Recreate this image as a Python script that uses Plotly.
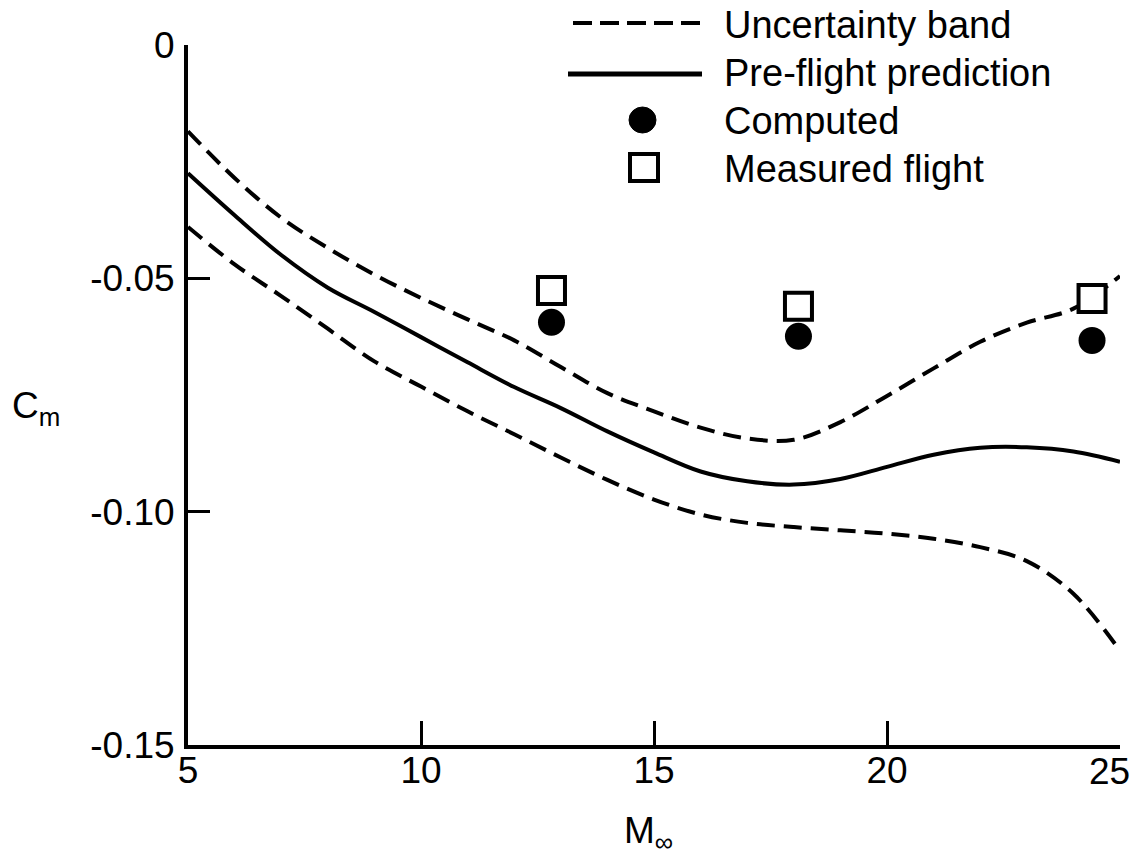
import plotly.graph_objects as go

# ---- data ----
mach = [5, 6, 7, 8, 9, 10, 11, 12, 13, 14, 15, 16, 17, 18, 19, 20, 21, 22, 23, 24, 25]
band_upper = [-0.0185, -0.0285, -0.0370, -0.0435, -0.0492, -0.0542, -0.0588, -0.0633,
              -0.0690, -0.0746, -0.0785, -0.0820, -0.0843, -0.0846, -0.0808, -0.0752,
              -0.0693, -0.0636, -0.0595, -0.0565, -0.0495]
prediction = [-0.0275, -0.0365, -0.0450, -0.0520, -0.0572, -0.0626, -0.0680, -0.0733,
              -0.0778, -0.0828, -0.0873, -0.0914, -0.0935, -0.0942, -0.0930, -0.0904,
              -0.0878, -0.0863, -0.0862, -0.0871, -0.0893]
band_lower = [-0.0390, -0.0470, -0.0538, -0.0608, -0.0678, -0.0732, -0.0785, -0.0834,
              -0.0884, -0.0932, -0.0974, -0.1006, -0.1024, -0.1033, -0.1040, -0.1047,
              -0.1058, -0.1076, -0.1106, -0.1176, -0.1298]

pts_mach = [12.8, 18.1, 24.4]
computed = [-0.0594, -0.0624, -0.0633]
measured = [-0.0526, -0.0560, -0.0543]

x_ticks = [5, 10, 15, 20, 25]
x_ticktext = ["5", "10", "15", "20", "25"]
y_ticks = [0, -0.05, -0.10, -0.15]
y_ticktext = ["0", "-0.05", "-0.10", "-0.15"]

legend_labels = ["Uncertainty band", "Pre-flight prediction", "Computed", "Measured flight"]

FONT = "Liberation Sans, Arial, Helvetica, sans-serif"
FS = 37
W, H = 1137, 857
ML, MR, MT, MB = 188, 17, 45, 112
PW, PH = W - ML - MR, H - MT - MB

def px_x(p):
    return (p - ML) / PW

def px_y(p):
    return 1 - (p - MT) / PH

dash = "18px,9px"
fig = go.Figure()
fig.add_trace(go.Scatter(x=mach, y=band_upper, mode="lines", line=dict(color="black", width=4, dash=dash, shape="spline"), showlegend=False))
fig.add_trace(go.Scatter(x=mach, y=prediction, mode="lines", line=dict(color="black", width=4, shape="spline"), showlegend=False))
fig.add_trace(go.Scatter(x=mach, y=band_lower, mode="lines", line=dict(color="black", width=4, dash=dash, shape="spline"), showlegend=False))
fig.add_trace(go.Scatter(x=pts_mach, y=computed, mode="markers", marker=dict(symbol="circle", size=27, color="black"), showlegend=False))
fig.add_trace(go.Scatter(x=pts_mach, y=measured, mode="markers", marker=dict(symbol="square", size=27, color="white", line=dict(color="black", width=4)), showlegend=False))

# manual legend (keys + text)
shapes = []
shapes.append(dict(type="line", xref="paper", yref="paper", x0=px_x(573), x1=px_x(702), y0=px_y(23), y1=px_y(23),
                   line=dict(color="black", width=4, dash="19px,8px")))
shapes.append(dict(type="line", xref="paper", yref="paper", x0=px_x(568), x1=px_x(702), y0=px_y(74), y1=px_y(74),
                   line=dict(color="black", width=5)))
shapes.append(dict(type="circle", xref="paper", yref="paper", x0=px_x(629), x1=px_x(656), y0=px_y(107), y1=px_y(133),
                   fillcolor="black", line=dict(color="black", width=1)))
shapes.append(dict(type="rect", xref="paper", yref="paper", x0=px_x(630), x1=px_x(658), y0=px_y(154), y1=px_y(181),
                   fillcolor="white", line=dict(color="black", width=4)))

annotations = []
for lbl, yc in zip(legend_labels, [25, 73, 121, 169]):
    annotations.append(dict(text=lbl, xref="paper", yref="paper", x=px_x(722), y=px_y(yc), xanchor="left", yanchor="middle",
                            showarrow=False, font=dict(family=FONT, size=38, color="black")))
annotations.append(dict(text="C<sub>m</sub>", xref="paper", yref="paper", x=px_x(10), y=px_y(408), xanchor="left", yanchor="middle",
                        showarrow=False, font=dict(family=FONT, size=FS, color="black")))
annotations.append(dict(text="M<sub>∞</sub>", xref="paper", yref="paper", x=px_x(622), y=px_y(833), xanchor="left", yanchor="middle",
                        showarrow=False, font=dict(family=FONT, size=FS, color="black")))
# last x tick label, kept inside the page like in the reference
annotations.append(dict(text=x_ticktext[-1], xref="x", yref="paper", x=x_ticks[-1], y=px_y(771), xanchor="right", yanchor="middle",
                        xshift=12, showarrow=False, font=dict(family=FONT, size=FS, color="black")))

fig.update_layout(
    width=W, height=H,
    margin=dict(l=ML, r=MR, t=MT, b=MB, autoexpand=False),
    paper_bgcolor="white", plot_bgcolor="white",
    font=dict(family=FONT, size=FS, color="black"),
    shapes=shapes, annotations=annotations,
    showlegend=False,
)
fig.update_xaxes(range=[5, 25], tickvals=x_ticks, ticktext=x_ticktext[:-1] + [""],
                 ticks="inside", ticklen=24, tickwidth=3, tickcolor="black",
                 showline=True, linewidth=4, linecolor="black", showgrid=False, zeroline=False,
                 ticklabelstandoff=-10, ticklabeloverflow="allow", tickfont=dict(family=FONT, size=FS))
fig.update_yaxes(range=[-0.15, 0], tickvals=y_ticks, ticktext=y_ticktext,
                 ticks="inside", ticklen=22, tickwidth=3, tickcolor="black",
                 showline=True, linewidth=4, linecolor="black", showgrid=False, zeroline=False,
                 ticklabelstandoff=2, ticklabeloverflow="allow", tickfont=dict(family=FONT, size=FS))

fig.write_html("out.html", config={"displayModeBar": False},
               post_script="document.body.style.margin='0';document.body.style.overflow='hidden';")
